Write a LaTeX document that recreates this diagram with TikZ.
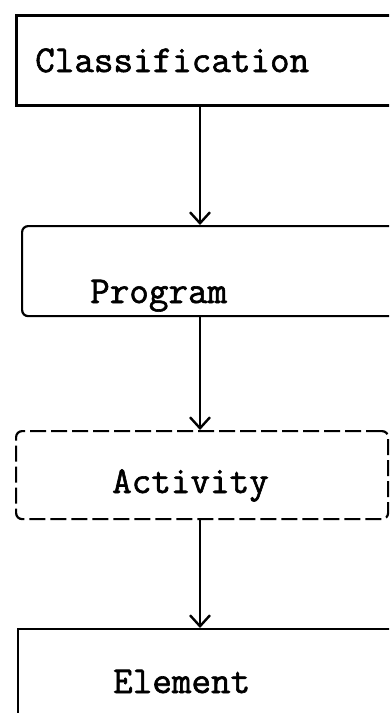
\documentclass[tikz,border=0pt]{standalone}
\usepackage{fontspec}
\newfontfamily\typewr{Latin Modern Mono}[FakeBold=1.6]
\usetikzlibrary{arrows.meta}
\begin{document}
\begin{tikzpicture}[x=1pt,y=-1pt,
  boxline/.style={draw=black, line width=2.2pt, inner sep=0pt, anchor=north west, minimum width=400pt},
  lbl/.style={anchor=base west, inner sep=0pt, font=\fontsize{38}{42}\selectfont\typewr},
  flow/.style={draw=black, line width=2pt, -{Straight Barb[length=11pt,width=20pt,line width=2.4pt]}}]
\useasboundingbox (0,0) rectangle (389,713);
\clip (0,0) rectangle (389,713);
% the four levels of the hierarchy
\node[boxline, line width=2.6pt, minimum height=90pt] (cls) at (15,14) {};
\node[boxline, minimum height=90pt, rounded corners=6pt] (prog) at (21,225) {};
\node[boxline, dashed, dash pattern=on 16pt off 5pt, minimum width=372pt, minimum height=88pt, rounded corners=6pt] (act) at (15,430) {};
\node[boxline, minimum height=130pt] (elem) at (17,628) {};
% labels
\node[lbl] (tcls) at (35,72) {Classification};
\node[lbl] (tprog) at (90,303) {Program};
\node[lbl] (tact) at (112,493) {Activity};
\node[lbl] (telem) at (113,693) {Element};
% connectors
\coordinate (ax) at (200,0);
\draw[flow] (cls.south -| ax) -- (prog.north -| ax);
\draw[flow] (prog.south -| ax) -- (act.north -| ax);
\draw[flow] (act.south -| ax) -- (elem.north -| ax);
\end{tikzpicture}
\end{document}
